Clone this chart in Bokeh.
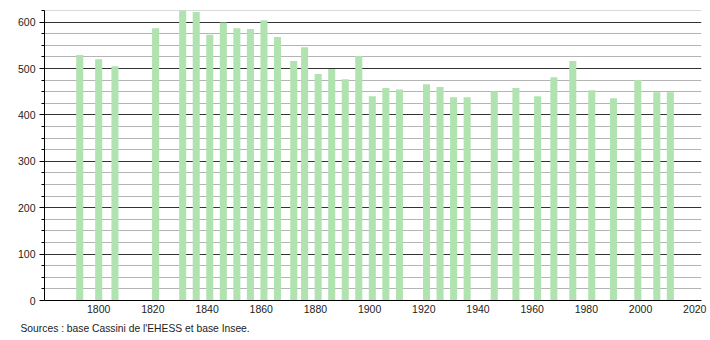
from bokeh.plotting import figure
from bokeh.models import ColumnDataSource, FixedTicker, Title, Range1d
from bokeh.embed import file_html
from bokeh.resources import INLINE

years = [1793, 1800, 1806, 1821, 1831, 1836, 1841, 1846, 1851, 1856, 1861, 1866,
         1872, 1876, 1881, 1886, 1891, 1896, 1901, 1906, 1911, 1921, 1926, 1931,
         1936, 1946, 1954, 1962, 1968, 1975, 1982, 1990, 1999, 2006, 2011]
population = [529, 520, 505, 587, 627, 622, 573, 599, 587, 585, 604, 568,
              516, 546, 488, 499, 477, 527, 440, 458, 455, 466, 460, 438,
              438, 451, 458, 440, 481, 516, 453, 436, 475, 449, 449]
x_ticks = [1800, 1820, 1840, 1860, 1880, 1900, 1920, 1940, 1960, 1980, 2000, 2020]
y_ticks = [0, 100, 200, 300, 400, 500, 600]
y_minor_ticks = [25, 50, 75, 125, 150, 175, 225, 250, 275, 325, 350, 375,
                 425, 450, 475, 525, 550, 575, 625]
source_text = "Sources : base Cassini de l'EHESS et base Insee."

src = ColumnDataSource(dict(year=years, pop=population))
minor_src = ColumnDataSource(dict(y=y_minor_ticks))

FONT = "Liberation Sans"

p = figure(width=710, height=340, output_backend="svg", toolbar_location=None,
           x_range=Range1d(1780, 2022.5), y_range=Range1d(0, 625),
           min_border_left=44, min_border_right=9, min_border_top=10,
           min_border_bottom=40)
p.outline_line_color = None
p.background_fill_color = "white"

# light minor grid lines
p.hspan(y="y", source=minor_src, line_color="#b4b4b4", line_width=1.1)

p.vbar(x="year", top="pop", width=2.6, bottom=0, source=src,
       fill_color="#b0e3b0", line_color=None)

# major grid
p.xgrid.grid_line_color = None
p.ygrid.ticker = FixedTicker(ticks=y_ticks)
p.ygrid.grid_line_color = "#333333"
p.ygrid.grid_line_width = 1

# y axis
p.yaxis.ticker = FixedTicker(ticks=y_ticks, minor_ticks=y_minor_ticks)
p.yaxis.axis_line_color = "black"
p.yaxis.major_tick_out = 5
p.yaxis.major_tick_in = 0
p.yaxis.minor_tick_out = 3
p.yaxis.minor_tick_in = 0
p.yaxis.major_label_text_font = FONT
p.yaxis.major_label_text_font_size = "10.5px"
p.yaxis.major_label_text_color = "#222222"
p.yaxis.major_label_standoff = 4

# x axis
p.xaxis.ticker = FixedTicker(ticks=x_ticks)
p.xaxis.axis_line_color = "black"
p.xaxis.major_tick_out = 0
p.xaxis.major_tick_in = 0
p.xaxis.minor_tick_out = 0
p.xaxis.minor_tick_in = 0
p.xaxis.major_label_text_font = FONT
p.xaxis.major_label_text_font_size = "10.5px"
p.xaxis.major_label_text_color = "#222222"
p.xaxis.major_label_standoff = 4

t = Title(text=source_text, align="left", text_font=FONT, text_font_size="10.3px",
          text_font_style="normal", text_color="#222222", offset=-24)
p.add_layout(t, "below")

open("out.html", "w").write(file_html(p, INLINE))
